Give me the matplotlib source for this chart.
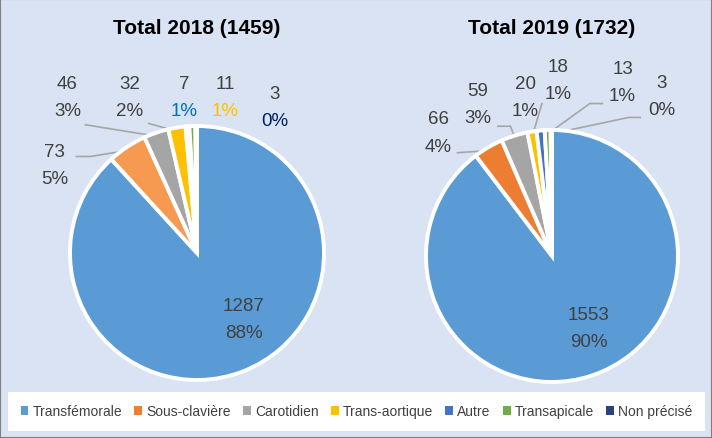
import numpy as np
import matplotlib
matplotlib.use('Agg')
import matplotlib.pyplot as plt
from matplotlib.patches import Patch, Rectangle

categories = ['Transfémorale', 'Sous-clavière', 'Carotidien', 'Trans-aortique',
              'Autre', 'Transapicale', 'Non précisé']
values_2018 = [1287, 73, 46, 32, 7, 11, 3]
values_2019 = [1553, 66, 59, 20, 18, 13, 3]
# percentages as printed on the chart
pct_2018 = [88, 5, 3, 2, 1, 1, 0]
pct_2019 = [90, 4, 3, 1, 1, 1, 0]
titles = ['Total 2018 (1459)', 'Total 2019 (1732)']

colors_2018 = ['#5B9BD5', '#F59A50', '#A5A5A5', '#FFC000', '#4472C4', '#70AD47', '#264478']
colors_2019 = ['#5B9BD5', '#ED7D31', '#A5A5A5', '#FFC000', '#4472C4', '#70AD47', '#264478']

# label placement (pie units), percent label colour, leader line points
labels_2018 = [
    ((0.37, -0.52), '#404040', None),
    ((-1.12, 0.69), '#404040', [(-0.95, 0.76), (-0.84, 0.76)]),
    ((-1.02, 1.23), '#404040', [(-0.88, 1.01)]),
    ((-0.53, 1.23), '#404040', [(-0.38, 1.02)]),
    ((-0.10, 1.23), '#0070C0', None),
    ((0.22, 1.23), '#FFC000', None),
    ((0.61, 1.15), '#002060', None),
]
labels_2019 = [
    ((0.29, -0.57), '#404040', None),
    ((-0.90, 0.98), '#404040', [(-0.75, 0.82)]),
    ((-0.59, 1.21), '#404040', [(-0.43, 1.03), (-0.33, 1.03)]),
    ((-0.21, 1.26), '#404040', [(-0.08, 1.21)]),
    ((0.05, 1.40), '#404040', None),
    ((0.56, 1.38), '#404040', [(0.40, 1.21), (0.30, 1.21)]),
    ((0.87, 1.27), '#404040', [(0.70, 1.10), (0.61, 1.10)]),
]

plt.rcParams['font.family'] = ['Liberation Sans', 'DejaVu Sans']

fig = plt.figure(figsize=(7.12, 4.39), dpi=100)
fig.patch.set_facecolor('#DAE3F3')
fig.patches.append(Rectangle((0, 0), 1, 1, transform=fig.transFigure,
                             fill=False, edgecolor='#7F7F7F', linewidth=1.5))

W, H = 712, 439


def draw_pie(cx, cy, r, vals, pcts, cols, labs, title):
    ax = fig.add_axes([(cx - r) / W, (H - cy - r) / H, 2 * r / W, 2 * r / H])
    wedges, _ = ax.pie(vals, colors=cols, startangle=90, counterclock=False,
                       wedgeprops=dict(edgecolor='white', linewidth=2.8))
    ax.set_xlim(-1, 1)
    ax.set_ylim(-1, 1)
    ax.axis('off')
    for w, v, p, (pos, pc, line) in zip(wedges, vals, pcts, labs):
        ax.text(pos[0], pos[1] + 0.04, str(v), ha='center', va='bottom',
                fontsize=13.5, color='#404040', clip_on=False)
        ax.text(pos[0], pos[1] - 0.04, '%d%%' % p, ha='center', va='top',
                fontsize=13.5, color=pc, clip_on=False)
        if line:
            ang = np.deg2rad((w.theta1 + w.theta2) / 2)
            xs = [q[0] for q in line] + [0.97 * np.cos(ang)]
            ys = [q[1] for q in line] + [0.97 * np.sin(ang)]
            ax.plot(xs, ys, color='#A6A6A6', linewidth=1.2, clip_on=False,
                    zorder=0.5)
    fig.text(cx / W, 1 - 28 / H, title, ha='center', va='center',
             fontsize=15, fontweight='bold', color='black')


draw_pie(197, 254, 127, values_2018, pct_2018, colors_2018, labels_2018, titles[0])
draw_pie(552, 257, 126, values_2019, pct_2019, colors_2019, labels_2019, titles[1])

handles = [Patch(facecolor=c, edgecolor='none') for c in colors_2019]
leg = fig.legend(handles, categories, loc='center', ncol=7,
                 bbox_to_anchor=(8 / W, (H - 433) / H, 697 / W, 41 / H),
                 mode='expand', frameon=True,
                 fancybox=False, edgecolor='white', facecolor='white',
                 framealpha=1, handlelength=0.55, handleheight=0.55,
                 handletextpad=0.3, columnspacing=0.5, borderpad=0.9,
                 borderaxespad=0, prop={'size': 10})
leg.get_frame().set_linewidth(0)
for t in leg.get_texts():
    t.set_color('#404040')

fig.savefig('out.png', dpi=100, facecolor=fig.get_facecolor())
